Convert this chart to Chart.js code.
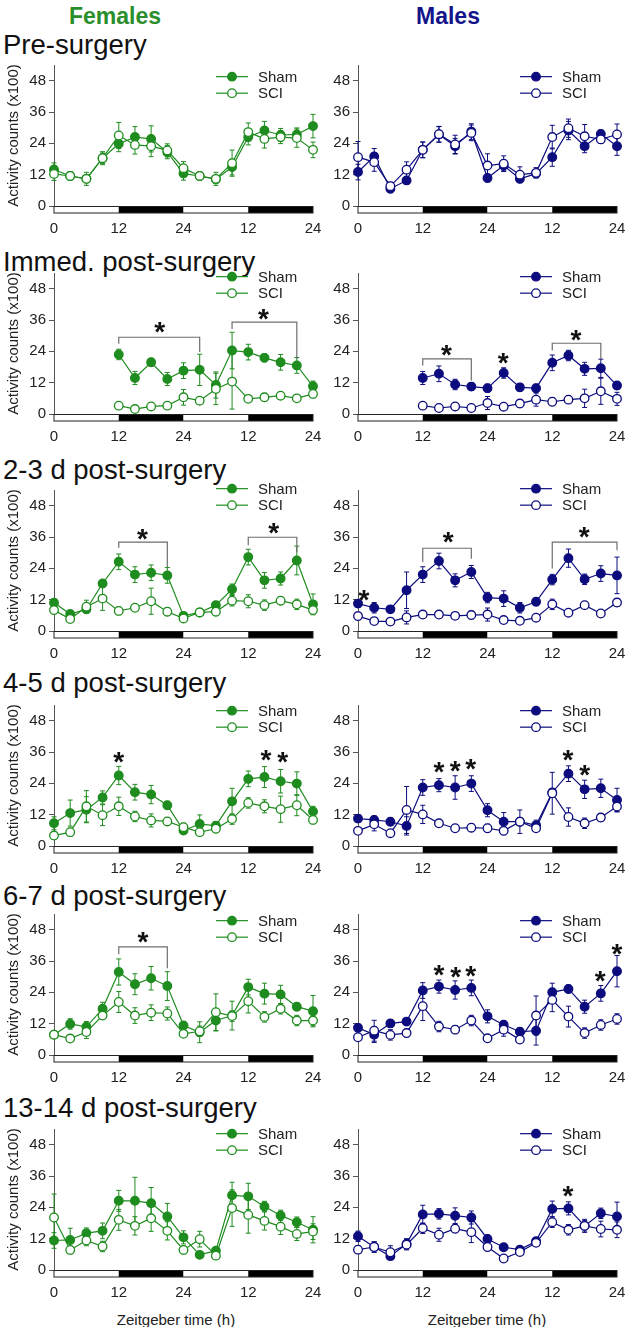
<!DOCTYPE html>
<html><head><meta charset="utf-8">
<script src="https://cdn.jsdelivr.net/npm/chart.js@4/dist/chart.umd.min.js"></script>
<style>
html,body{margin:0;padding:0;background:#fff}
body{width:625px;height:1327px;overflow:hidden;position:relative;font-family:'Liberation Sans',Arial,sans-serif;color:#111}
.t{position:absolute;white-space:nowrap;line-height:1}
canvas{position:absolute}
</style></head><body>
<script>
// ---------- shared axis data ----------
const hours = [0,3,6,9,12,15,18,21,24,27,30,33,36,39,42,45,48];
const hoursImmed = [12,15,18,21,24,27,30,33,36,39,42,45,48];
const xTickValues = [0,12,24,36,48];
const xTickLabels = ['0','12','24','12','24'];
const yTickValues = [0,12,24,36,48];
const lightDarkBounds = [0,12,24,36,48];
const lightDarkIsDark = [false,true,false,true];
const rowTitles = ['Pre-surgery','Immed. post-surgery','2-3 d post-surgery','4-5 d post-surgery','6-7 d post-surgery','13-14 d post-surgery'];
const seriesNames = ['Sham','SCI'];

// ---------- Pre-surgery ----------
const femPreSham    = [14.0,11.5,10.4,18.3,23.8,26.4,25.7,20.6,12.4,11.5,10.2,14.9,26.4,28.9,27.2,27.4,30.6];
const femPreShamErr = [2.5,1.5,1.5,2,3,4,5,2.5,2.5,1.5,1.5,3,3,3.5,2.5,2.5,4.5];
const femPreSci     = [12.3,11.5,10.4,18.3,27.0,23.4,22.9,21.3,14.5,11.5,10.4,16.4,28.3,25.7,26.4,26.0,21.5];
const femPreSciErr  = [2.5,1.5,2.5,2.5,5,3.5,4,2.5,2.5,1.5,2.5,5,3.5,3.5,2.5,3.5,3];
const malPreSham    = [13.0,19.0,6.6,9.8,21.5,27.4,22.9,28.5,10.7,15.5,10.4,12.4,18.7,28.9,22.9,27.6,22.9];
const malPreShamErr = [3,3,1.5,1.5,3,3,3,3,1.5,2,1.5,1.5,3.5,3.5,2.5,1.5,3.5];
const malPreSci     = [18.7,16.8,7.6,13.9,21.5,27.5,23.6,28.0,15.5,16.2,12.0,12.7,26.4,29.8,26.7,25.5,27.4];
const malPreSciErr  = [6,3.5,1.5,3,3,3,3.5,3,4.5,3,3,2,4.5,3.5,4.5,1.5,4];

// ---------- Immediately post-surgery (from ZT12) ----------
const femImmSham    = [22.8,13.8,19.8,13.4,16.6,16.9,11.1,24.3,23.7,21.5,19.8,18.6,10.6];
const femImmShamErr = [2,2.5,1.5,2.5,3,6,5,7,3,1.5,3,3,2];
const femImmSci     = [3.2,1.9,2.9,3.2,6.4,5.1,9.6,12.4,5.8,6.4,7.0,6.0,7.7];
const femImmSciErr  = [1,1,1,1,3,1,6,10.5,1,1.5,1,1,1.5];
const malImmSham    = [13.8,15.4,11.3,10.5,9.9,15.7,10.2,9.9,19.6,22.4,17.3,17.5,10.9];
const malImmShamErr = [2.5,3,2,1.5,1.5,2,1.5,1.5,3,2,2.5,3.5,1.5];
const malImmSci     = [3.2,2.3,2.9,2.3,4.2,2.8,4.0,5.5,4.7,5.5,6.0,8.7,5.8];
const malImmSciErr  = [1,1,1,1,2.5,1,1.5,2.5,1.5,1.5,3.5,5,2.5];

// ---------- 2-3 d ----------
const femD23Sham    = [10.8,6.5,8.3,18.2,26.5,21.6,22.3,21.3,5.8,7.1,9.9,16.0,28.3,19.4,20.1,27.0,10.2];
const femD23ShamErr = [1.5,1,1,1,3,3,3,3,1,1,1,2,3,3,2.5,5.5,4];
const femD23Sci     = [8.0,4.6,9.3,12.4,7.7,8.9,11.4,7.4,4.8,7.1,7.4,11.6,11.4,9.9,11.6,10.2,8.0];
const femD23SciErr  = [1.5,1,2.5,4.5,1.5,1,5,1.5,1,1,1.5,2,2.5,2,1.5,2,1.5];
const malD23Sham    = [10.5,8.9,8.3,15.6,21.6,26.8,19.4,22.6,12.8,12.4,8.9,11.2,19.7,27.9,19.8,22.0,21.3];
const malD23ShamErr = [1.5,2,1,7,3,3,2.5,2.5,2,3,2,1.5,2,3.5,2,3,7];
const malD23Sci     = [5.7,3.8,3.6,5.2,6.3,6.3,5.8,6.1,6.3,4.2,3.9,5.1,10.2,7.0,9.9,6.7,10.9];
const malD23SciErr  = [1.5,1,1,2.5,1,1,1,1.5,2.5,1,1,1,2,1,1,1,1.5];

// ---------- 4-5 d ----------
const femD45Sham    = [8.7,12.6,13.9,18.6,27.0,20.6,19.7,15.6,5.9,8.4,7.8,17.1,25.7,26.4,24.8,23.9,13.2];
const femD45ShamErr = [2.5,5,5,2.5,3.5,3,3.5,1.5,1,3.5,1.5,5,3,4,4.5,4.5,2];
const femD45Sci     = [4.0,5.3,15.2,11.8,15.2,11.3,9.8,9.4,7.2,5.3,6.6,10.3,16.5,15.2,14.1,15.6,10.0];
const femD45SciErr  = [1.5,1.5,6,4,3.5,2,2.5,1.5,1.5,1,1.5,2,2,2.5,5,4,1.5];
const malD45Sham    = [10.5,10.0,9.3,7.7,22.4,23.3,22.4,23.9,13.7,9.3,9.3,7.9,20.5,27.7,21.7,22.1,17.6];
const malD45ShamErr = [1.5,1.5,1.5,3.5,3,2.5,4.5,3,2.5,3.5,1.5,2,1.5,3,3.5,3.5,4.5];
const malD45Sci     = [5.8,8.3,4.9,13.8,12.1,8.7,6.8,7.0,6.8,5.8,9.3,6.8,20.2,11.1,8.7,10.9,15.1];
const malD45SciErr  = [1,2.5,1,9,3.5,1,1,1.5,1.5,1.5,4.5,1,8,3.5,2,1.5,2];

// ---------- 6-7 d ----------
const femD67Sham    = [7.8,11.9,10.8,17.7,31.8,27.1,29.4,26.4,11.3,8.7,13.2,15.1,26.0,23.5,23.2,18.5,16.8];
const femD67ShamErr = [1,2,2,2.5,5,4,4.5,5.5,1.5,4,4,5.5,3,4,3.5,1.5,6];
const femD67Sci     = [7.8,6.3,8.8,15.1,20.3,15.1,16.2,15.9,8.1,9.1,16.4,14.9,20.6,14.6,17.7,13.2,13.2];
const femD67SciErr  = [1,1,2.5,1.5,4,3,3,2.5,1,2,7,2,4.5,2,2,2,2];
const malD67Sham    = [10.4,7.8,12.1,12.8,24.7,26.2,24.9,25.7,14.8,11.6,8.9,9.3,24.0,25.3,18.5,23.6,32.1];
const malD67ShamErr = [1.5,3,1.5,1.5,3,2.5,3.5,3,2.5,1.5,1.5,5.5,3.5,1.5,2.5,3,6];
const malD67Sci     = [6.8,9.3,7.7,8.4,18.7,10.9,9.7,13.2,6.4,9.7,5.9,15.1,21.1,14.7,8.4,11.5,13.8];
const malD67SciErr  = [1,4,2,1.5,5.5,2,1.5,2,1,2.5,1,7.5,4.5,4,2,2,2];

// ---------- 13-14 d ----------
const femD1314Sham    = [11.3,11.5,14.1,15.0,26.5,26.5,25.6,20.5,12.5,5.8,7.4,28.6,28.2,24.3,20.9,18.3,15.4];
const femD1314ShamErr = [3,4.5,2,3,4,9,6,5,2.5,1,1,5,5,2,2,2,5];
const femD1314Sci     = [20.1,7.7,11.3,9.0,19.2,16.9,19.8,15.0,7.7,11.8,5.5,23.7,21.1,18.8,16.6,13.8,14.7];
const femD1314SciErr  = [9,1.5,2,2,4,3.5,5,3.5,1.5,3,1,7,7,3.5,3,2.5,3];
const malD1314Sham    = [12.9,8.8,5.3,10.0,21.3,21.5,20.8,20.1,11.9,8.7,7.8,11.0,23.4,23.6,16.9,21.7,20.5];
const malD1314ShamErr = [2,2,1,2,3.5,2,3,2.5,1.5,1,1,1,3,2.5,2.5,2,5.5];
const malD1314Sci     = [7.8,8.8,6.8,9.7,16.0,13.5,15.8,14.5,8.8,4.4,6.9,10.4,18.3,15.4,16.9,15.7,15.4];
const malD1314SciErr  = [1.5,2,2.5,2,2,2.5,1.5,4,1.5,1,1,1,2,2,2,3,3];

// ---------- significance marks: stars [ZT, value], brackets [ZTstart, ZTend, top, leftEnd, rightEnd] ----------
const femImmStars    = [[19.6,33.9],[38.8,39.0]];
const femImmBrackets = [[12,27,29.4,26.9,23.7],[33,45,35.2,32.6,21.1]];
const malImmStars    = [[16.4,25.2],[26.9,22.1],[40.4,31.0]];
const malImmBrackets = [[12,21,21.1,18.6,12.8],[36,45,27.1,24.3,21.1]];
const femD23Stars    = [[16.4,37.8],[40.7,40.3]];
const femD23Brackets = [[12,21,34.0,31.9,24.5],[36,45,35.9,32.8,30.2]];
const malD23Stars    = [[1.1,14.6],[16.7,36.6],[41.9,38.5]];
const malD23Brackets = [[12,21,31.7,26.4,27.7],[36,48,34.0,23.9,30.9]];
const femD45Stars    = [[12,34.7],[39.3,35.7],[42.4,34.7]];
const malD45Stars    = [[15.0,30.9],[18.0,31.3],[20.9,32.2],[38.9,35.5],[42.0,29.8]];
const femD67Stars    = [[16.5,45.9]];
const femD67Brackets = [[12,21,41.4,38.6,33.2]];
const malD67Stars    = [[15.0,33.5],[18.1,32.5],[20.9,32.9],[44.9,31.1],[48,41.2]];
const malD1314Stars  = [[38.9,31.2]];

// ---------- layout (pixels) ----------
const GREEN = '#1e8c1e', NAVY = '#0c0c7e';
const zeroLines = [206, 414, 631, 846, 1055, 1270];
const legendOffsets = [4, 12, 17, 10, 9, 11];
const titleBaselines = [52, 269, 477, 690, 903, 1115];
const CH = 141, PADT = 24, XH = 40, YW = 54;

Chart.defaults.font.family = "'Liberation Sans', Arial, sans-serif";
Chart.defaults.color = '#222';

const panels = [
  {sex:'f',row:0,h:hours,sham:femPreSham,shamErr:femPreShamErr,sci:femPreSci,sciErr:femPreSciErr},
  {sex:'m',row:0,h:hours,sham:malPreSham,shamErr:malPreShamErr,sci:malPreSci,sciErr:malPreSciErr},
  {sex:'f',row:1,h:hoursImmed,sham:femImmSham,shamErr:femImmShamErr,sci:femImmSci,sciErr:femImmSciErr,stars:femImmStars,brackets:femImmBrackets},
  {sex:'m',row:1,h:hoursImmed,sham:malImmSham,shamErr:malImmShamErr,sci:malImmSci,sciErr:malImmSciErr,stars:malImmStars,brackets:malImmBrackets},
  {sex:'f',row:2,h:hours,sham:femD23Sham,shamErr:femD23ShamErr,sci:femD23Sci,sciErr:femD23SciErr,stars:femD23Stars,brackets:femD23Brackets},
  {sex:'m',row:2,h:hours,sham:malD23Sham,shamErr:malD23ShamErr,sci:malD23Sci,sciErr:malD23SciErr,stars:malD23Stars,brackets:malD23Brackets},
  {sex:'f',row:3,h:hours,sham:femD45Sham,shamErr:femD45ShamErr,sci:femD45Sci,sciErr:femD45SciErr,stars:femD45Stars},
  {sex:'m',row:3,h:hours,sham:malD45Sham,shamErr:malD45ShamErr,sci:malD45Sci,sciErr:malD45SciErr,stars:malD45Stars},
  {sex:'f',row:4,h:hours,sham:femD67Sham,shamErr:femD67ShamErr,sci:femD67Sci,sciErr:femD67SciErr,stars:femD67Stars,brackets:femD67Brackets},
  {sex:'m',row:4,h:hours,sham:malD67Sham,shamErr:malD67ShamErr,sci:malD67Sci,sciErr:malD67SciErr,stars:malD67Stars},
  {sex:'f',row:5,h:hours,sham:femD1314Sham,shamErr:femD1314ShamErr,sci:femD1314Sci,sciErr:femD1314SciErr},
  {sex:'m',row:5,h:hours,sham:malD1314Sham,shamErr:malD1314ShamErr,sci:malD1314Sci,sciErr:malD1314SciErr,stars:malD1314Stars}
];

function addText(txt, css) {
  const d = document.createElement('div');
  d.className = 't'; d.textContent = txt;
  Object.assign(d.style, css);
  document.body.appendChild(d);
}

addText('Females', {left:'115px', top:'3px', transform:'translateX(-50%)', font:"bold 23px 'Liberation Sans', Arial", color:'#2a8f2a'});
addText('Males', {left:'448px', top:'3px', transform:'translateX(-50%)', font:"bold 23px 'Liberation Sans', Arial", color:'#14148a'});
rowTitles.forEach((t, i) => addText(t, {left:'3px', top:(titleBaselines[i]-23.3)+'px', font:"27.5px 'Liberation Sans', Arial", color:'#111'}));
addText('Zeitgeber time (h)', {left:'176px', top:'1311px', transform:'translateX(-50%)', font:"15px 'Liberation Sans', Arial", color:'#222'});
addText('Zeitgeber time (h)', {left:'487px', top:'1311px', transform:'translateX(-50%)', font:"15px 'Liberation Sans', Arial", color:'#222'});

const extras = {
  id: 'extras',
  beforeDatasetsDraw(chart, args, o) {
    const ctx = chart.ctx, xs = chart.scales.x, ys = chart.scales.y;
    const y0 = Math.round(ys.getPixelForValue(0)) + 0.5;
    ctx.save();
    for (let i = 0; i < lightDarkIsDark.length; i++) {
      const a = xs.getPixelForValue(lightDarkBounds[i]), b = xs.getPixelForValue(lightDarkBounds[i+1]);
      ctx.fillStyle = lightDarkIsDark[i] ? '#000' : '#fff';
      ctx.fillRect(a, y0, b - a, 6.5);
    }
    ctx.strokeStyle = '#222'; ctx.lineWidth = 1;
    const a0 = xs.getPixelForValue(lightDarkBounds[0]), a1 = xs.getPixelForValue(lightDarkBounds[lightDarkBounds.length-1]);
    ctx.strokeRect(a0, y0, a1 - a0, 6.5);
    ctx.strokeStyle = o.color; ctx.lineWidth = 1;
    chart.data.datasets.forEach((ds, di) => {
      const meta = chart.getDatasetMeta(di);
      meta.data.forEach((pt, i) => {
        const v = ds.data[i].y, e = ds.err[i];
        if (v == null || !e) return;
        const yt = ys.getPixelForValue(v + e), yb = ys.getPixelForValue(Math.max(0, v - e));
        ctx.beginPath();
        ctx.moveTo(pt.x, yt); ctx.lineTo(pt.x, yb);
        ctx.moveTo(pt.x - 2.5, yt); ctx.lineTo(pt.x + 2.5, yt);
        ctx.moveTo(pt.x - 2.5, yb); ctx.lineTo(pt.x + 2.5, yb);
        ctx.stroke();
      });
    });
    ctx.restore();
  },
  afterDatasetsDraw(chart, args, o) {
    const ctx = chart.ctx, xs = chart.scales.x, ys = chart.scales.y, p = o.panel;
    ctx.save();
    ctx.strokeStyle = '#6e6e6e'; ctx.lineWidth = 1.2;
    (p.brackets || []).forEach(b => {
      const x1 = xs.getPixelForValue(b[0]), x2 = xs.getPixelForValue(b[1]);
      ctx.beginPath();
      ctx.moveTo(x1, ys.getPixelForValue(b[3]));
      ctx.lineTo(x1, ys.getPixelForValue(b[2]));
      ctx.lineTo(x2, ys.getPixelForValue(b[2]));
      ctx.lineTo(x2, ys.getPixelForValue(b[4]));
      ctx.stroke();
    });
    ctx.fillStyle = '#111'; ctx.textAlign = 'center'; ctx.textBaseline = 'alphabetic';
    ctx.font = "bold 28px 'Liberation Sans', Arial";
    (p.stars || []).forEach(s => {
      ctx.fillText('*', xs.getPixelForValue(s[0]), ys.getPixelForValue(s[1]) + 16);
    });
    const left = chart.chartArea.left;
    const ly = ys.getPixelForValue(48) - legendOffsets[p.row];
    seriesNames.forEach((name, k) => {
      const y = ly + k * 16.5;
      ctx.strokeStyle = o.color; ctx.lineWidth = 1.2;
      ctx.beginPath(); ctx.moveTo(left + 162, y); ctx.lineTo(left + 194, y); ctx.stroke();
      ctx.beginPath(); ctx.arc(left + 178, y, 4.3, 0, Math.PI * 2);
      ctx.fillStyle = k === 0 ? o.color : '#fff'; ctx.fill();
      ctx.lineWidth = 1.3; ctx.stroke();
      ctx.fillStyle = '#222'; ctx.font = "15px 'Liberation Sans', Arial";
      ctx.textAlign = 'left'; ctx.textBaseline = 'middle';
      ctx.fillText(name, left + 204, y + 1);
    });
    ctx.restore();
  }
};

panels.forEach(p => {
  const isF = p.sex === 'f';
  const color = isF ? GREEN : NAVY;
  const cv = document.createElement('canvas');
  const cLeft = isF ? 0 : 304;
  const cW = isF ? 325 : 321;
  const cH = PADT + CH + XH;
  cv.width = cW; cv.height = cH;
  cv.style.left = cLeft + 'px';
  cv.style.top = (zeroLines[p.row] - CH - PADT) + 'px';
  cv.style.width = cW + 'px'; cv.style.height = cH + 'px';
  document.body.appendChild(cv);
  const mk = (vals) => p.h.map((h, i) => ({x: h, y: vals[i]}));
  new Chart(cv, {
    type: 'line',
    data: {datasets: [
      {label: 'SCI', data: mk(p.sci), err: p.sciErr, borderColor: color, backgroundColor: '#fff',
       pointBackgroundColor: '#fff', pointBorderColor: color, borderWidth: 1.2, pointRadius: 4.3,
       pointBorderWidth: 1.3, tension: 0, clip: false},
      {label: 'Sham', data: mk(p.sham), err: p.shamErr, borderColor: color, backgroundColor: color,
       pointBackgroundColor: color, pointBorderColor: color, borderWidth: 1.2, pointRadius: 4.3,
       pointBorderWidth: 1.3, tension: 0, clip: false}
    ]},
    options: {
      responsive: false, animation: false, devicePixelRatio: 1,
      layout: {padding: {left: 0, right: isF ? 12 : 8, top: PADT, bottom: 0}},
      plugins: {legend: {display: false}, tooltip: {enabled: false}, extras: {panel: p, color: color}},
      scales: {
        x: {type: 'linear', min: 0, max: 48,
            afterBuildTicks: s => { s.ticks = xTickValues.map(v => ({value: v})); },
            ticks: {callback: (v, i) => xTickLabels[i], font: {size: 15}, color: '#222', padding: 14, maxRotation: 0, autoSkip: false},
            grid: {display: false, drawTicks: false}, border: {display: false},
            afterFit: s => { s.height = XH; s.paddingLeft = 0; s.paddingRight = 0; }},
        y: {min: 0, max: 54,
            afterBuildTicks: s => { s.ticks = yTickValues.map(v => ({value: v})); },
            ticks: {font: {size: 15}, color: '#222', padding: 3},
            grid: {drawOnChartArea: false, drawTicks: true, tickLength: 5, color: '#555'},
            border: {display: true, color: '#555', width: 1},
            title: {display: isF, text: 'Activity counts (x100)', font: {size: 15}, color: '#222', padding: {top: 5, bottom: 0}},
            afterFit: s => { s.width = YW; s.paddingTop = 0; s.paddingBottom = 0; }}
      }
    },
    plugins: [extras]
  });
});
</script>
</body></html>
